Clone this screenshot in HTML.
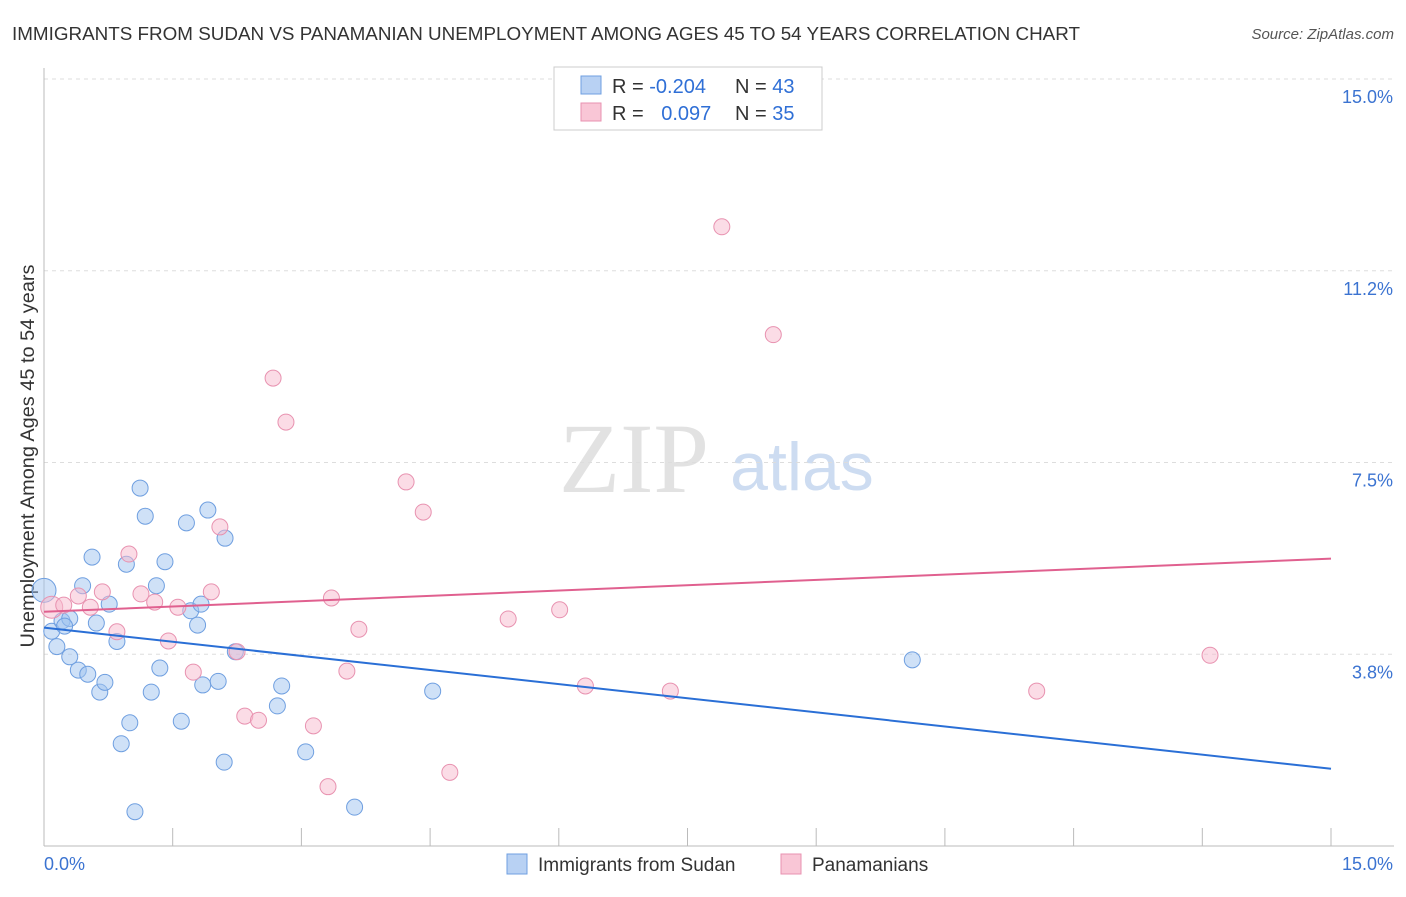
<!DOCTYPE html>
<html><head><meta charset="utf-8"><style>
body{margin:0;background:#fff;font-family:"Liberation Sans",sans-serif}
svg text{font-family:"Liberation Sans",sans-serif}
</style></head><body>
<svg id="chart" width="1406" height="892">
<text x="12" y="40" font-size="18.5" fill="#333" textLength="1068" lengthAdjust="spacingAndGlyphs">IMMIGRANTS FROM SUDAN VS PANAMANIAN UNEMPLOYMENT AMONG AGES 45 TO 54 YEARS CORRELATION CHART</text>
<text x="1394" y="39" font-size="15" fill="#555" font-style="italic" text-anchor="end">Source: ZipAtlas.com</text>
<text x="634" y="492" font-size="100" fill="#e2e2e2" style="font-family:'Liberation Serif',serif" text-anchor="middle">ZIP</text>
<text x="802" y="490" font-size="68" fill="#cddcf1" text-anchor="middle">atlas</text>
<text transform="translate(34,456) rotate(-90)" font-size="19.5" fill="#333" text-anchor="middle" textLength="383" lengthAdjust="spacingAndGlyphs">Unemployment Among Ages 45 to 54 years</text>
<g id="grid"></g><g id="marks"></g>
<g>
<rect x="554" y="67" width="268" height="63" fill="#fff" stroke="#ccc"/>
<rect x="581" y="76" width="20" height="18" fill="#b8d1f3" stroke="#6f9fe0"/>
<rect x="581" y="103" width="20" height="18" fill="#f9c6d6" stroke="#e892b0"/>
<text x="612" y="93" font-size="20" fill="#333">R = <tspan fill="#2f6fd6">-0.204</tspan></text>
<text x="735" y="93" font-size="20" fill="#333">N = <tspan fill="#2f6fd6">43</tspan></text>
<text x="612" y="120" font-size="20" fill="#333">R = <tspan fill="#2f6fd6" dx="12">0.097</tspan></text>
<text x="735" y="120" font-size="20" fill="#333">N = <tspan fill="#2f6fd6">35</tspan></text>
</g>
<g>
<rect x="507" y="854" width="20" height="20" fill="#b8d1f3" stroke="#6f9fe0"/>
<text x="538" y="871" font-size="19" fill="#333">Immigrants from Sudan</text>
<rect x="781" y="854" width="20" height="20" fill="#f9c6d6" stroke="#e892b0"/>
<text x="812" y="871" font-size="19" fill="#333">Panamanians</text>
</g>
</svg>
<script>
const yTicks=[15.0,11.25,7.5,3.75];
const yTickLabels=["15.0%","11.2%","7.5%","3.8%"];
const blueX=[0.0,0.09,0.15,0.21,0.30,0.40,0.45,0.51,0.56,0.61,0.65,0.71,0.76,0.85,0.90,0.96,1.00,1.06,1.12,1.18,1.25,1.31,1.35,1.41,1.60,1.66,1.71,1.79,1.85,1.83,1.91,2.03,2.10,2.11,2.23,2.72,2.77,3.05,3.62,4.53,10.12,0.30,0.24];
const blueY=[5.0,4.2,3.9,4.4,3.7,3.44,5.09,3.36,5.65,4.36,3.01,3.2,4.73,4.0,2.00,5.51,2.41,0.67,7.0,6.45,3.01,5.09,3.48,5.56,2.44,6.32,4.6,4.32,3.15,4.73,6.57,3.22,1.64,6.02,3.8,2.74,3.13,1.84,0.76,3.03,3.64,4.45,4.3];
const pinkX=[0.09,0.23,0.40,0.54,0.68,0.85,0.99,1.13,1.29,1.45,1.56,1.74,1.95,2.05,2.25,2.34,2.50,2.67,2.82,3.14,3.31,3.35,3.53,3.67,4.22,4.42,4.73,5.41,6.01,6.31,7.30,7.90,8.50,11.57,13.59];
const pinkY=[4.67,4.71,4.89,4.67,4.97,4.19,5.71,4.93,4.77,4.01,4.67,3.4,4.97,6.24,3.8,2.54,2.46,9.15,8.29,2.35,1.16,4.85,3.42,4.24,7.12,6.53,1.44,4.44,4.62,3.13,3.03,12.11,10.0,3.03,3.73];
const blueTrend=[4.27,1.51];
const pinkTrend=[4.58,5.62];
const X0=44,X1=1331,Y0=846,Y1=79;
const sx=v=>X0+v/15*(X1-X0), sy=v=>Y0-v/15*(Y0-Y1);
const NS="http://www.w3.org/2000/svg";
const grid=document.getElementById('grid'),marks=document.getElementById('marks');
function mk(tag,attrs,parent){const e=document.createElementNS(NS,tag);for(const k in attrs)e.setAttribute(k,attrs[k]);parent.appendChild(e);return e;}
yTicks.forEach((t,i)=>{
 const l=mk('line',{x1:X0,x2:1394,y1:sy(t),y2:sy(t),stroke:'#ddd','stroke-dasharray':'4,4'},grid);
 
 
 const tx=mk('text',{x:1393,y:sy(t)+24,'font-size':18,fill:'#3b73d1','text-anchor':'end'},grid);
 tx.textContent=yTickLabels[i];
 
 
});
const ax=mk('line',{x1:X0,x2:X0,y1:68,y2:Y0,stroke:'#bbb'},grid);


const bx=mk('line',{x1:X0,x2:1394,y1:Y0,y2:Y0,stroke:'#bbb'},grid);


for(let i=0;i<=10;i++){const t=mk('line',{x1:sx(i*1.5),x2:sx(i*1.5),y1:828,y2:Y0,stroke:'#bbb'},grid);
 
 }
const xl0=mk('text',{x:44,y:870,'font-size':18,fill:'#3b73d1'},grid);xl0.textContent='0.0%';


const xl1=mk('text',{x:1393,y:870,'font-size':18,fill:'#3b73d1','text-anchor':'end'},grid);xl1.textContent='15.0%';


blueX.forEach((x,i)=>{const c=mk('circle',{cx:sx(x),cy:sy(blueY[i]),r:i==0?12:8,fill:'rgba(160,195,240,0.5)',stroke:'#6f9fe0','stroke-width':1},marks);
 
 });
pinkX.forEach((x,i)=>{const c=mk('circle',{cx:sx(x),cy:sy(pinkY[i]),r:i==0?11:8,fill:'rgba(248,185,205,0.5)',stroke:'#e892b0','stroke-width':1},marks);
 
 });
const bl=mk('line',{x1:sx(0),y1:sy(blueTrend[0]),x2:sx(15),y2:sy(blueTrend[1]),stroke:'#2a6fd6','stroke-width':2},marks);


const pl=mk('line',{x1:sx(0),y1:sy(pinkTrend[0]),x2:sx(15),y2:sy(pinkTrend[1]),stroke:'#e0608f','stroke-width':2},marks);


</script>
</body></html>
